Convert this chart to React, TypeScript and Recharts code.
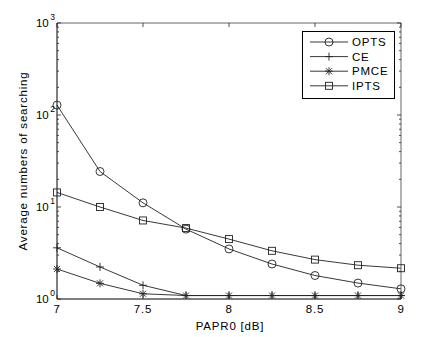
import React from 'react';
import { LineChart, Line, XAxis, YAxis } from 'recharts';

// PAPR0 threshold values [dB]
const papr = [7, 7.25, 7.5, 7.75, 8, 8.25, 8.5, 8.75, 9];
// average numbers of searching
const opts = [128, 24.3, 11.1, 5.75, 3.5, 2.4, 1.8, 1.49, 1.29];
const ce = [3.6, 2.23, 1.41, 1.09, 1.09, 1.09, 1.09, 1.09, 1.09];
const pmce = [2.12, 1.48, 1.14, 1.09, 1.09, 1.09, 1.09, 1.09, 1.09];
const ipts = [14.4, 10.0, 7.14, 5.9, 4.48, 3.34, 2.68, 2.33, 2.16];

const xTicks = [7, 7.5, 8, 8.5, 9];
const yMajor = [1, 10, 100, 1000];
const yTicks = [1, 2, 3, 4, 5, 6, 7, 8, 9, 10, 20, 30, 40, 50, 60, 70, 80, 90, 100, 200, 300, 400, 500, 600, 700, 800, 900, 1000];

const FONT = '"Liberation Sans", Arial, Helvetica, sans-serif';
const FS = 11.5;
const LS = 0.8;
const INK = '#222';

type MarkerKind = 'circle' | 'plus' | 'star' | 'square';

const series: { key: string; name: string; marker: MarkerKind; values: number[] }[] = [
  { key: 'opts', name: 'OPTS', marker: 'circle', values: opts },
  { key: 'ce', name: 'CE', marker: 'plus', values: ce },
  { key: 'pmce', name: 'PMCE', marker: 'star', values: pmce },
  { key: 'ipts', name: 'IPTS', marker: 'square', values: ipts },
];

const data = papr.map((x, i) => {
  const row: any = { x };
  series.forEach((s) => (row[s.key] = s.values[i]));
  return row;
});

function Marker({ kind, cx, cy }: { kind: MarkerKind; cx: number; cy: number }) {
  const p = { stroke: INK, strokeWidth: 0.9, fill: 'none' };
  if (kind === 'circle') return <circle cx={cx} cy={cy} r={4} {...p} />;
  if (kind === 'square') return <rect x={cx - 3.5} y={cy - 3.5} width={7} height={7} {...p} />;
  if (kind === 'plus')
    return (
      <g {...p}>
        <line x1={cx - 4} y1={cy} x2={cx + 4} y2={cy} />
        <line x1={cx} y1={cy - 4} x2={cx} y2={cy + 4} />
      </g>
    );
  return (
    <g {...p}>
      <line x1={cx - 4} y1={cy} x2={cx + 4} y2={cy} />
      <line x1={cx} y1={cy - 4} x2={cx} y2={cy + 4} />
      <line x1={cx - 3} y1={cy - 3} x2={cx + 3} y2={cy + 3} />
      <line x1={cx - 3} y1={cy + 3} x2={cx + 3} y2={cy - 3} />
    </g>
  );
}

// ticks point into the plot, MATLAB style
const LeftTick = (props: any) => {
  const { x, y, payload } = props;
  const major = yMajor.includes(payload.value);
  const exp = Math.round(Math.log10(payload.value));
  return (
    <g>
      <line x1={x} y1={y} x2={x + (major ? 4 : 2)} y2={y} stroke={INK} strokeWidth={0.8} />
      {major && (
        <text x={x - 2} y={y + 4} textAnchor="end" fontSize={FS} fontFamily={FONT} fill="#000">
          10
          <tspan dx={1.5} dy={-7.5} fontSize={8.5}>
            {exp}
          </tspan>
        </text>
      )}
    </g>
  );
};

const RightTick = (props: any) => {
  const { x, y, payload } = props;
  const major = yMajor.includes(payload.value);
  return <line x1={x} y1={y} x2={x - (major ? 4 : 2)} y2={y} stroke={INK} strokeWidth={0.8} />;
};

const BottomTick = (props: any) => {
  const { x, y, payload } = props;
  return (
    <g>
      <line x1={x} y1={y} x2={x} y2={y - 4} stroke={INK} strokeWidth={0.8} />
      <text x={x} y={y + 14} textAnchor="middle" fontSize={FS} letterSpacing={LS} fontFamily={FONT} fill="#000">
        {payload.value}
      </text>
    </g>
  );
};

const TopTick = (props: any) => {
  const { x, y } = props;
  return <line x1={x} y1={y} x2={x} y2={y + 4} stroke={INK} strokeWidth={0.8} />;
};

const LegendBox = () => (
  <svg width={93} height={68} style={{ display: 'block' }}>
    <rect x={0.5} y={0.5} width={92} height={67} fill="#fff" stroke="#000" strokeWidth={1} />
    {series.map((s, i) => {
      const cy = 11 + i * 14.6;
      return (
        <g key={s.key}>
          <line x1={8} y1={cy} x2={46} y2={cy} stroke={INK} strokeWidth={0.9} />
          <Marker kind={s.marker} cx={27} cy={cy} />
          <text x={50} y={cy + 4} fontSize={FS} letterSpacing={LS} fontFamily={FONT} fill="#000">
            {s.name}
          </text>
        </g>
      );
    })}
  </svg>
);

export default function App() {
  return (
    <div style={{ position: 'fixed', left: 0, top: 0, width: 443, height: 337, background: '#fff' }}>
      <LineChart width={443} height={337} data={data} margin={{ top: 23, right: 42, bottom: 0, left: 0 }}>
        <XAxis
          dataKey="x"
          type="number"
          domain={[7, 9]}
          ticks={xTicks}
          height={38}
          tickSize={0}
          tickMargin={0}
          tickLine={false}
          axisLine={{ stroke: '#000', strokeWidth: 1 }}
          tick={BottomTick}
          label={{
            content: (p: any) => (
              <text
                x={p.viewBox.x + p.viewBox.width / 2 + 1}
                y={p.viewBox.y + 31}
                textAnchor="middle"
                fontSize={FS}
                letterSpacing={LS}
                fontFamily={FONT}
                fill="#000"
              >
                PAPR0 [dB]
              </text>
            ),
          }}
        />
        <XAxis
          xAxisId="top"
          orientation="top"
          dataKey="x"
          type="number"
          domain={[7, 9]}
          ticks={xTicks}
          height={1}
          mirror
          tickSize={0}
          tickMargin={0}
          tickLine={false}
          axisLine={{ stroke: '#666', strokeWidth: 1 }}
          tick={TopTick}
        />
        <YAxis
          type="number"
          scale="log"
          domain={[1, 1000]}
          allowDataOverflow
          ticks={yTicks}
          interval={0}
          width={57}
          tickSize={0}
          tickMargin={0}
          tickLine={false}
          axisLine={{ stroke: '#000', strokeWidth: 1 }}
          tick={LeftTick}
          label={{
            content: (p: any) => {
              const cx = p.viewBox.x + 23;
              const cy = p.viewBox.y + p.viewBox.height / 2;
              return (
                <text
                  x={cx}
                  y={cy}
                  transform={`rotate(-90 ${cx} ${cy})`}
                  textAnchor="middle"
                  dominantBaseline="central"
                  fontSize={FS}
                  letterSpacing={LS}
                  fontFamily={FONT}
                  fill="#000"
                >
                  Average numbers of searching
                </text>
              );
            },
          }}
        />
        <YAxis
          yAxisId="right"
          orientation="right"
          type="number"
          scale="log"
          domain={[1, 1000]}
          allowDataOverflow
          ticks={yTicks}
          interval={0}
          width={1}
          mirror
          tickSize={0}
          tickMargin={0}
          tickLine={false}
          axisLine={{ stroke: '#666', strokeWidth: 1 }}
          tick={RightTick}
        />
        {series.map((s) => (
          <Line
            key={s.key}
            dataKey={s.key}
            name={s.name}
            type="linear"
            stroke={INK}
            strokeWidth={0.9}
            isAnimationActive={false}
            dot={(p: any) => <Marker key={`${s.key}-${p.index}`} kind={s.marker} cx={p.cx} cy={p.cy} />}
            activeDot={false}
          />
        ))}
      </LineChart>
      <div style={{ position: 'absolute', left: 302, top: 31 }}>
        <LegendBox />
      </div>
    </div>
  );
}
